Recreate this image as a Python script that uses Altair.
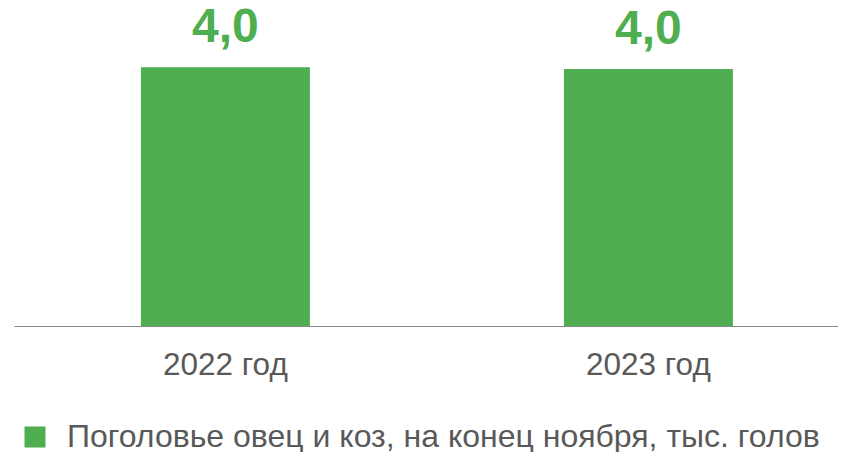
import altair as alt
import pandas as pd

years = ["2022 год", "2023 год"]
values = [4.07, 4.04]
labels = ["4,0", "4,0"]
series = "Поголовье овец и коз, на конец ноября, тыс. голов"

df = pd.DataFrame({"year": years, "value": values, "label": labels, "series": [series] * 2})

GREEN = "#4EAE50"
GRAY = "#595959"
FONT = "Liberation Sans"

x = alt.X("year:N", title=None,
          scale=alt.Scale(paddingInner=0.6005, paddingOuter=0.2742, align=0.547),
          axis=alt.Axis(labelAngle=0, labelFontSize=31.5, labelColor=GRAY, labelFont=FONT,
                        ticks=False, domainColor="#888888", domainWidth=1.2, labelPadding=23,
                        grid=False))
y = alt.Y("value:Q", title=None, scale=alt.Scale(domain=[0, 5], nice=False), axis=None)

bars = alt.Chart(df).mark_bar(color=GREEN).encode(
    x=x, y=y,
    color=alt.Color("series:N", scale=alt.Scale(range=[GREEN]), title=None,
                    legend=alt.Legend(orient="none", legendX=5, legendY=413, padding=0,
                                      symbolType="square", symbolSize=441, symbolStrokeWidth=0,
                                      symbolFillColor=GREEN, symbolOpacity=1,
                                      labelFontSize=32, labelColor=GRAY, labelFont=FONT,
                                      labelOffset=16, labelLimit=1000))
)

text = alt.Chart(df).mark_text(baseline="alphabetic", dy=-25, fontSize=48, fontWeight="bold",
                               color=GREEN, font=FONT).encode(
    x=alt.X("year:N"), y=alt.Y("value:Q"), text="label:N"
)

chart = alt.layer(bars, text).properties(
    width=824, height=318,
    autosize=alt.AutoSizeParams(type="none"),
    padding={"left": 6, "top": 0, "right": 0, "bottom": 126},
).configure_view(stroke=None)

chart.save("out.html", embed_options={"renderer": "svg", "actions": False})
